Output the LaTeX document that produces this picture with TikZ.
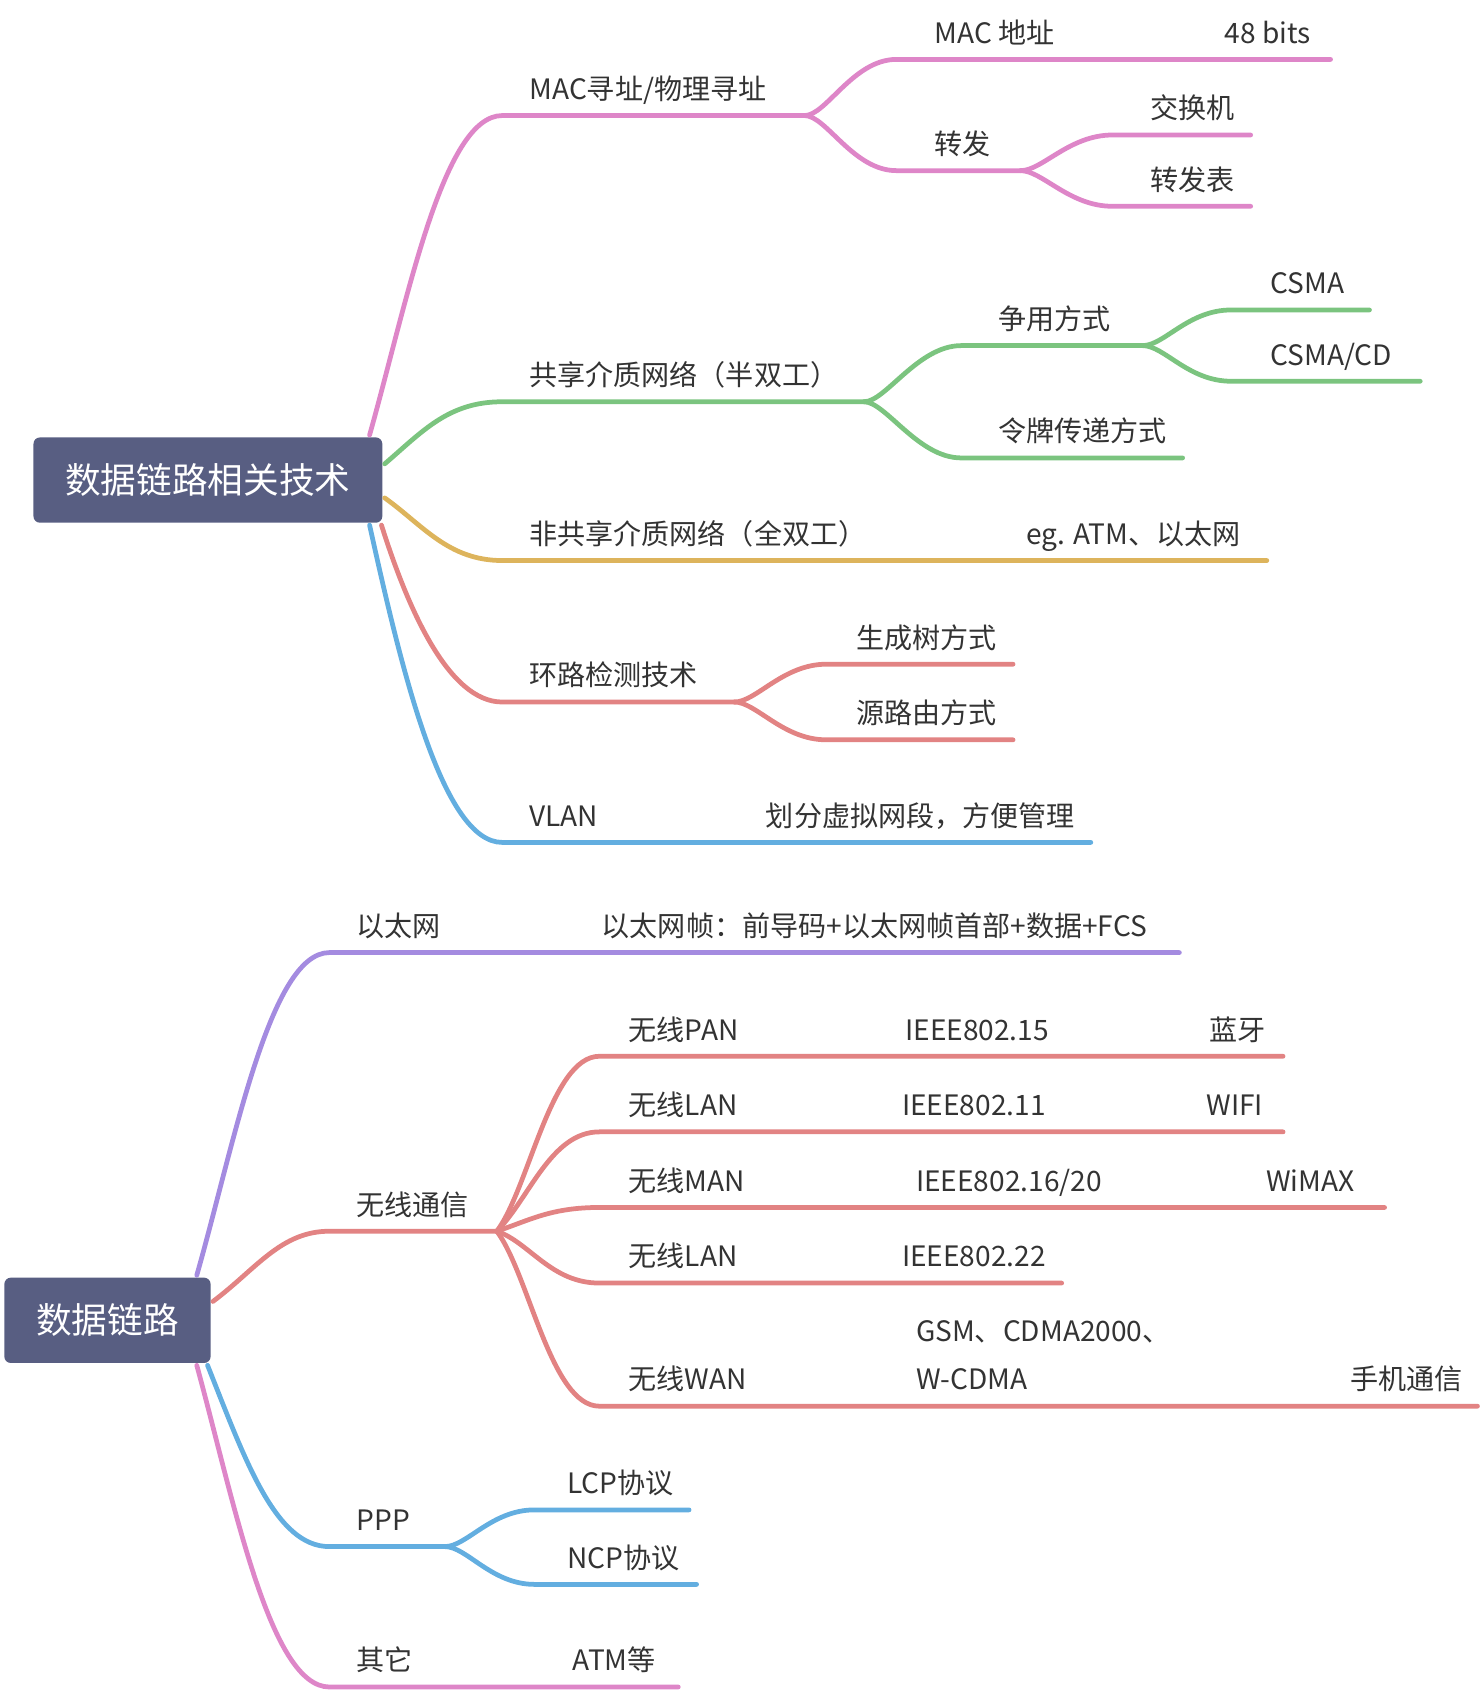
\documentclass[tikz,border=0pt]{standalone}
\usepackage{fontspec}
\setmainfont{Noto Sans CJK SC}
\usetikzlibrary{positioning}
\definecolor{rootc}{HTML}{585E82}
\definecolor{pinkc}{HTML}{DE86C8}
\definecolor{greenc}{HTML}{7BC47F}
\definecolor{yellowc}{HTML}{DDB45C}
\definecolor{redc}{HTML}{E28383}
\definecolor{bluec}{HTML}{63AEE0}
\definecolor{purplec}{HTML}{A48BE0}
\definecolor{textc}{HTML}{333333}

\begin{document}
\begin{tikzpicture}[x=0.5pt,y=-0.5pt,line width=2.2pt,line cap=round,
    root/.style={fill=rootc,rounded corners=3pt,text=white,inner sep=0pt,minimum height=39.5pt,font=\fontsize{16.5}{18}\selectfont},
    lbl/.style={anchor=base west,inner sep=0pt,text=textc,font=\fontsize{13}{15}\selectfont},
    fork/.style={to path={.. controls +(20,0) and +(-40,0) .. (\tikztotarget)}}]
    \useasboundingbox (0,0) rectangle (1370.4,1568.5);

    % 数据链路相关技术
    \node[root,minimum width=161.5pt] (r1) at (192.5,444.5) {数据链路相关技术};

    \coordinate (mac) at (465,107);   \coordinate (mac-j) at (745,107);
    \coordinate (addr) at (830,55);   \coordinate (addr-e) at (1232,55);
    \coordinate (fwd) at (830,158);   \coordinate (fwd-j) at (945,158);
    \coordinate (sw) at (1030,125);   \coordinate (sw-e) at (1158,125);
    \coordinate (tab) at (1030,191);  \coordinate (tab-e) at (1158,191);
    \draw[pinkc] ([xshift=-7pt]r1.north east) .. controls +(35,-124) and +(-55,0) .. (mac) -- (mac-j);
    \draw[pinkc] (mac-j) to[fork] (addr) -- (addr-e);
    \draw[pinkc] (mac-j) to[fork] (fwd) -- (fwd-j);
    \draw[pinkc] (fwd-j) to[fork] (sw) -- (sw-e);
    \draw[pinkc] (fwd-j) to[fork] (tab) -- (tab-e);
    \node[lbl] (mac-t) at (488,92) {MAC寻址/物理寻址};
    \node[lbl] (addr-t) at (863,40) {MAC 地址};
    \node[lbl] (addr-v) at (1132,40) {48 bits};
    \node[lbl] (fwd-t) at (863,143) {转发};
    \node[lbl] (sw-t) at (1063,110) {交换机};
    \node[lbl] (tab-t) at (1063,176) {转发表};

    \coordinate (half) at (465,372);  \coordinate (half-j) at (800,372);
    \coordinate (cont) at (890,320);  \coordinate (cont-j) at (1058,320);
    \coordinate (csma) at (1140,287); \coordinate (csma-e) at (1268,287);
    \coordinate (cd) at (1140,353);   \coordinate (cd-e) at (1315,353);
    \coordinate (tok) at (890,424);   \coordinate (tok-e) at (1095,424);
    \draw[greenc] ([yshift=7.5pt]r1.east) .. controls +(35,-30) and +(-50,0) .. (half) -- (half-j);
    \draw[greenc] (half-j) to[fork] (cont) -- (cont-j);
    \draw[greenc] (cont-j) to[fork] (csma) -- (csma-e);
    \draw[greenc] (cont-j) to[fork] (cd) -- (cd-e);
    \draw[greenc] (half-j) to[fork] (tok) -- (tok-e);
    \node[lbl] (half-t) at (488,357) {共享介质网络（半双工）};
    \node[lbl] (cont-t) at (922,305) {争用方式};
    \node[lbl] (csma-t) at (1174,272) {CSMA};
    \node[lbl] (cd-t) at (1174,338) {CSMA/CD};
    \node[lbl] (tok-t) at (922,409) {令牌传递方式};

    \coordinate (full) at (465,519);  \coordinate (full-e) at (1173,519);
    \draw[yellowc] ([yshift=-8.25pt]r1.east) .. controls +(35,25) and +(-50,0) .. (full) -- (full-e);
    \node[lbl] (full-t) at (488,504) {非共享介质网络（全双工）};
    \node[lbl] (full-v) at (948,504) {eg. ATM、以太网};

    \coordinate (loop) at (465,650);  \coordinate (loop-j) at (680,650);
    \coordinate (stp) at (765,615);   \coordinate (stp-e) at (938,615);
    \coordinate (src) at (765,685);   \coordinate (src-e) at (938,685);
    \draw[redc] ([xshift=-1.5pt]r1.south east) .. controls +(24,76) and +(-50,0) .. (loop) -- (loop-j);
    \draw[redc] (loop-j) to[fork] (stp) -- (stp-e);
    \draw[redc] (loop-j) to[fork] (src) -- (src-e);
    \node[lbl] (loop-t) at (488,635) {环路检测技术};
    \node[lbl] (stp-t) at (791,600) {生成树方式};
    \node[lbl] (src-t) at (791,670) {源路由方式};

    \coordinate (vlan) at (465,780);  \coordinate (vlan-e) at (1010,780);
    \draw[bluec] ([xshift=-7pt]r1.south east) .. controls +(30,136) and +(-55,0) .. (vlan) -- (vlan-e);
    \node[lbl] (vlan-t) at (488,765) {VLAN};
    \node[lbl] (vlan-v) at (707,765) {划分虚拟网段，方便管理};

    % 数据链路
    \node[root,minimum width=95.5pt] (r2) at (99.5,1222.5) {数据链路};

    \coordinate (eth) at (305,882);   \coordinate (eth-e) at (1092,882);
    \draw[purplec] ([xshift=-7.5pt]r2.north east) .. controls +(35,-123) and +(-55,0) .. (eth) -- (eth-e);
    \node[lbl] (eth-t) at (328,867) {以太网};
    \node[lbl] (eth-v) at (555,867) {以太网帧：前导码+以太网帧首部+数据+FCS};

    \coordinate (wl) at (305,1140);   \coordinate (wl-j) at (460,1140);
    \coordinate (pan) at (555,978);   \coordinate (pan-e) at (1188,978);
    \coordinate (lan) at (555,1048);  \coordinate (lan-e) at (1188,1048);
    \coordinate (man) at (555,1118);  \coordinate (man-e) at (1282,1118);
    \coordinate (ran) at (555,1188);  \coordinate (ran-e) at (983,1188);
    \coordinate (wan) at (555,1302);  \coordinate (wan-e) at (1368,1302);
    \draw[redc] ([yshift=8.75pt]r2.east) .. controls +(40,-30) and +(-45,0) .. (wl) -- (wl-j);
    \draw[redc] (wl-j) .. controls +(30,-40) and +(-45,0) .. (pan) -- (pan-e);
    \draw[redc] (wl-j) .. controls +(30,-30) and +(-45,0) .. (lan) -- (lan-e);
    \draw[redc] (wl-j) .. controls +(30,-10) and +(-45,0) .. (man) -- (man-e);
    \draw[redc] (wl-j) .. controls +(30,10) and +(-45,0) .. (ran) -- (ran-e);
    \draw[redc] (wl-j) .. controls +(30,40) and +(-45,0) .. (wan) -- (wan-e);
    \node[lbl] (wl-t) at (328,1125) {无线通信};
    \node[lbl] (pan-t) at (580,963) {无线PAN};
    \node[lbl] (pan-s) at (836,963) {IEEE802.15};
    \node[lbl] (pan-v) at (1118,963) {蓝牙};
    \node[lbl] (lan-t) at (580,1033) {无线LAN};
    \node[lbl] (lan-s) at (833,1033) {IEEE802.11};
    \node[lbl] (lan-v) at (1115,1033) {WIFI};
    \node[lbl] (man-t) at (580,1103) {无线MAN};
    \node[lbl] (man-s) at (846,1103) {IEEE802.16/20};
    \node[lbl] (man-v) at (1170,1103) {WiMAX};
    \node[lbl] (ran-t) at (580,1173) {无线LAN};
    \node[lbl] (ran-s) at (833,1173) {IEEE802.22};
    \node[lbl] (wan-t) at (580,1287) {无线WAN};
    \node[lbl] (wan-s) at (846,1242) {GSM、CDMA2000、};
    \node[lbl] (wan-s2) at (846,1287) {W-CDMA};
    \node[lbl] (wan-v) at (1248,1287) {手机通信};

    \coordinate (ppp) at (305,1432);  \coordinate (ppp-j) at (412,1432);
    \coordinate (lcp) at (495,1398);  \coordinate (lcp-e) at (638,1398);
    \coordinate (ncp) at (495,1467);  \coordinate (ncp-e) at (645,1467);
    \draw[bluec] ([xshift=-2.5pt]r2.south east) .. controls +(35,88) and +(-50,0) .. (ppp) -- (ppp-j);
    \draw[bluec] (ppp-j) to[fork] (lcp) -- (lcp-e);
    \draw[bluec] (ppp-j) to[fork] (ncp) -- (ncp-e);
    \node[lbl] (ppp-t) at (328,1417) {PPP};
    \node[lbl] (lcp-t) at (523,1383) {LCP协议};
    \node[lbl] (ncp-t) at (523,1452) {NCP协议};

    \coordinate (oth) at (305,1562);  \coordinate (oth-e) at (628,1562);
    \draw[pinkc] ([xshift=-7.5pt]r2.south east) .. controls +(35,128) and +(-55,0) .. (oth) -- (oth-e);
    \node[lbl] (oth-t) at (328,1547) {其它};
    \node[lbl] (oth-v) at (528,1547) {ATM等};
\end{tikzpicture}
\end{document}
